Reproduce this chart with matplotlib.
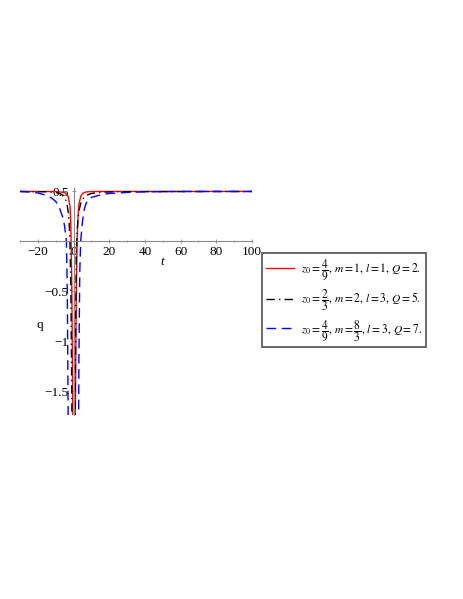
import matplotlib
matplotlib.use("Agg")
import matplotlib.pyplot as plt

plt.rcParams["font.family"] = ["Liberation Serif", "DejaVu Serif"]
plt.rcParams["mathtext.fontset"] = "stix"

# values (q against t)
t_red = [-30, -10, -5, -3, -2, -1.5, -1, -0.5, 0, 0.5, 1, 1.5, 2, 2.5, 3, 4, 5, 7, 10, 20, 100]
q_red = [0.5, 0.499, 0.49, 0.45, 0.35, 0.15, -0.4, -1.5, -3, -3, -1.8, -0.6, 0.0, 0.25, 0.37, 0.45, 0.48, 0.495, 0.499, 0.5, 0.5]

t_blk = [-30, -15, -10, -7, -5, -4, -3, -2.5, -2, -1.5, -1, -0.5, 0.5, 1, 1.5, 2, 2.5, 3, 4, 5, 7, 10, 15, 25, 100]
q_blk = [0.5, 0.497, 0.49, 0.475, 0.44, 0.4, 0.3, 0.2, 0.0, -0.5, -1.5, -3, -3, -1.3, -0.15, 0.1, 0.22, 0.3, 0.38, 0.42, 0.46, 0.48, 0.492, 0.498, 0.5]

t_blu = [-30, -25, -20, -15, -12, -10, -8, -6, -5, -4.5, -4, -3.5, -3, -2.5, 2.5, 3, 3.5, 4, 5, 6, 7, 8, 10, 14, 20, 30, 40, 60, 100]
q_blu = [0.5, 0.495, 0.485, 0.46, 0.43, 0.4, 0.34, 0.24, 0.15, 0.08, 0.0, -0.5, -1.8, -3, -3, -1.2, -0.3, 0.0, 0.2, 0.32, 0.38, 0.41, 0.44, 0.46, 0.48, 0.49, 0.497, 0.5, 0.5]

labels = [r"$z_0=\dfrac{4}{9},\,m=1,\,l=1,\,Q=2.$",
          r"$z_0=\dfrac{2}{3},\,m=2,\,l=3,\,Q=5.$",
          r"$z_0=\dfrac{4}{9},\,m=\dfrac{8}{3},\,l=3,\,Q=7.$"]

x_ticks = [-20, 0, 20, 40, 60, 80, 100]
y_ticks = [0.5, -0.5, -1, -1.5]
y_ticklabels = ["0.5", "\u22120.5", "\u22121", "\u22121.5"]

fig = plt.figure(figsize=(4.63, 5.99), dpi=100)
ax = fig.add_axes([0.0432, 0.3072, 0.5011, 0.3790])

ax.plot(t_red, q_red, color="#ff0000", lw=1.0, label=labels[0])
ax.plot(t_blk, q_blk, color="black", lw=1.0, ls=(0, (6, 3, 1, 3)), label=labels[1])
ax.plot(t_blu, q_blu, color="#0000ff", lw=1.0, ls=(0, (7, 4)), label=labels[2])

ax.set_xlim(-30, 100)
ax.set_ylim(-1.74, 0.535)

for s in ("top", "right"):
    ax.spines[s].set_visible(False)
ax.spines["bottom"].set_position(("data", 0))
ax.spines["left"].set_position(("data", 0))
for s in ("bottom", "left"):
    ax.spines[s].set_color("#888888")
    ax.spines[s].set_linewidth(0.8)

ax.set_xticks(x_ticks)
ax.set_xticklabels(["\u221220", "0", "20", "40", "60", "80", "100"])
ax.set_xticks(range(-30, 101, 10), minor=True)
ax.set_yticks(y_ticks)
ax.set_yticklabels(y_ticklabels)
ax.tick_params(axis="both", which="major", labelsize=9.5, length=3, width=0.6,
               color="#888888", direction="inout", pad=2)
ax.tick_params(axis="both", which="minor", length=2, width=0.5, color="#888888", direction="inout")

fig.text(162 / 463, 1 - 262 / 599, "t", style="italic", fontsize=9.5, ha="center", va="center")
fig.text(40 / 463, 1 - 325 / 599, "q", fontsize=9.5, ha="center", va="center")

leg = ax.legend(loc="upper left", bbox_to_anchor=(262 / 463, 1 - 253 / 599),
                bbox_transform=fig.transFigure, fontsize=8.3, frameon=True,
                fancybox=False, edgecolor="#444444", handlelength=2.4,
                handletextpad=0.6, borderpad=0.35, labelspacing=0.45,
                borderaxespad=0)
leg.get_frame().set_linewidth(1.4)

fig.savefig("out.png", dpi=100)
